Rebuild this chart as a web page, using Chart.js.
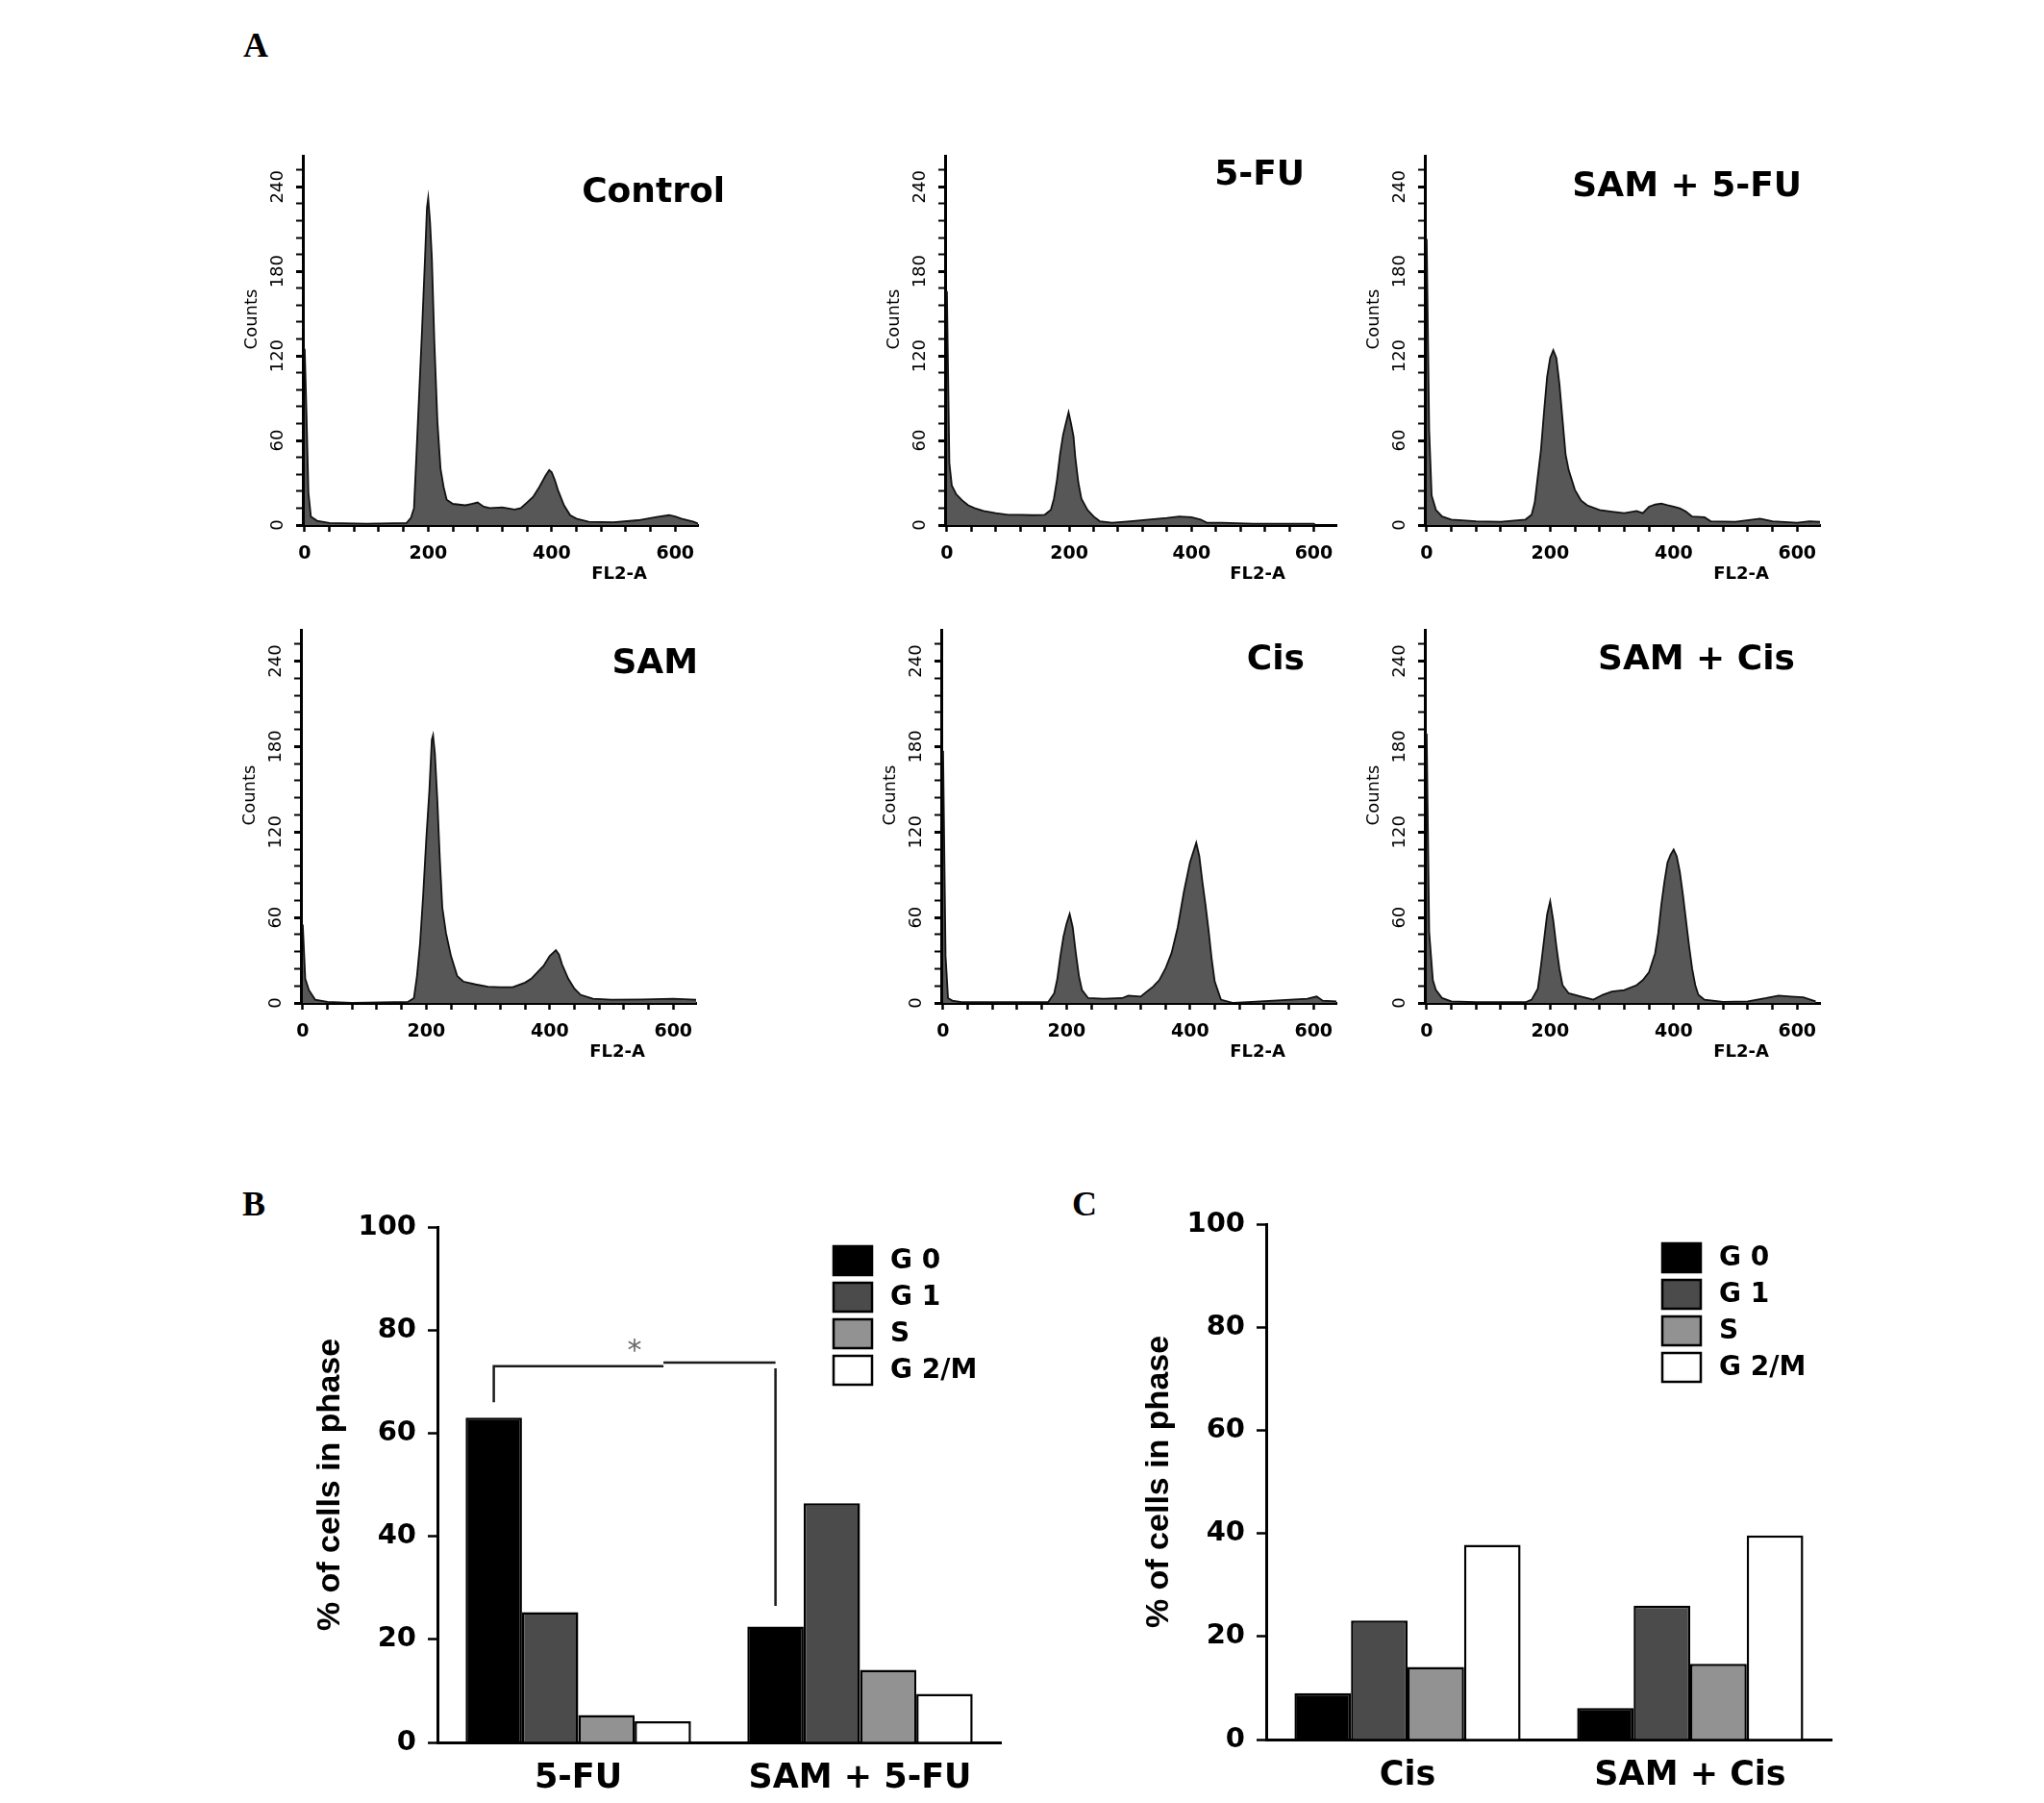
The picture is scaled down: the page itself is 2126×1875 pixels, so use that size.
<!DOCTYPE html>
<html>
<head>
<meta charset="utf-8">
<script src="https://cdn.jsdelivr.net/npm/chart.js"></script>
<style>
body { margin: 0; width: 2126px; height: 1875px; background: #fff; position: relative; overflow: hidden; }
.box { position: absolute; }
.tag { position: absolute; font: bold 36px "Liberation Serif", serif; transform: translate(-50%, -50%); color: #000; }
</style>
</head>
<body>
<div class="tag" style="left:266px; top:47px;">A</div>
<div class="tag" style="left:264px; top:1252px;">B</div>
<div class="tag" style="left:1128px; top:1252px;">C</div>

<script>
// ---- panel A: DNA content histograms (FL2-A channel vs counts) ----
const histTitles = ['Control', '5-FU', 'SAM + 5-FU', 'SAM', 'Cis', 'SAM + Cis'];

const controlChannels = [0, 3, 6, 10, 20, 40, 100, 165, 172, 177, 181, 185, 190, 195, 198, 200, 203, 206, 210, 215, 220, 225, 230, 240, 260, 270, 280, 290, 300, 320, 340, 350, 360, 370, 380, 390, 396, 400, 405, 410, 420, 430, 440, 460, 500, 540, 570, 590, 600, 610, 630, 637];
const controlCounts   = [125, 77, 23, 6, 3, 1.5, 1, 1.5, 5, 12, 50, 89, 138, 191, 225, 232, 215, 189, 130, 73, 40, 27, 18, 15, 14, 15, 16, 13, 12, 12.5, 11, 12, 16, 20, 27, 35, 39, 37.5, 32, 25, 14, 7, 4.5, 2.3, 2, 3.4, 5.7, 7, 6, 4.5, 2.3, 1];

const fuChannels = [0, 4, 8, 15, 25, 35, 45, 60, 80, 100, 120, 140, 160, 170, 175, 180, 185, 190, 195, 199, 203, 207, 210, 215, 220, 230, 240, 250, 270, 300, 330, 360, 380, 400, 415, 425, 450, 500, 600, 603];
const fuCounts   = [166, 44, 28, 22, 17.5, 14, 12, 10, 8.4, 7.3, 7.3, 7, 7.3, 10.7, 18.6, 32, 50, 64, 73, 80, 72, 63, 48, 30, 18.6, 10.7, 6, 2.7, 1.6, 2.7, 3.9, 5, 6, 5.5, 3.9, 1.6, 1.6, 0.9, 0.9, 0];

const samFuChannels = [0, 4, 8, 15, 25, 40, 80, 120, 160, 170, 175, 180, 185, 190, 195, 200, 205, 210, 215, 220, 225, 230, 240, 250, 260, 280, 300, 320, 340, 350, 360, 370, 380, 390, 400, 410, 420, 430, 450, 460, 500, 540, 560, 600, 620, 637];
const samFuCounts   = [203, 67.5, 21, 10.7, 6, 3.9, 2.7, 2.3, 3.9, 7.3, 16, 34.5, 53, 80, 105, 118.6, 124, 118.6, 100, 75, 50, 39, 25, 17.5, 14, 10.7, 9.5, 8.4, 10, 8.4, 13, 14.5, 15.2, 14, 13, 11.8, 9.5, 6, 5.5, 2.7, 2.3, 4.5, 2.7, 1.6, 2.7, 2.3];

const samChannels = [0, 4, 10, 20, 40, 80, 170, 180, 185, 190, 195, 200, 205, 209, 211, 214, 218, 222, 226, 232, 240, 250, 260, 280, 300, 320, 340, 360, 370, 380, 390, 400, 410, 415, 420, 430, 440, 450, 470, 500, 550, 600, 637];
const samCounts   = [55, 17, 9, 2.3, 0.7, 0, 0.7, 3.4, 19, 42, 76, 115, 149, 185, 188, 175, 142, 101, 67, 49, 33, 19, 15, 13, 11.4, 11, 11, 14.3, 17, 21.6, 26, 33, 37, 34, 27, 17, 10, 5.7, 3, 2.3, 2.5, 3, 2.3];

const cisChannels = [0, 4, 8, 15, 30, 170, 180, 185, 190, 195, 200, 205, 210, 215, 220, 225, 235, 260, 290, 300, 320, 330, 340, 350, 360, 370, 380, 390, 400, 410, 415, 420, 425, 430, 435, 440, 450, 470, 500, 590, 605, 615, 637];
const cisCounts   = [177, 33, 3.4, 1.6, 0.5, 0.5, 6.8, 17, 33, 46.6, 55.7, 62.5, 53, 35, 19, 9, 3.4, 3, 3.4, 5.2, 4.5, 8, 11.4, 16, 24, 35, 53, 78, 99, 112.5, 103, 85, 69, 51, 31, 15, 2.3, 0, 0.7, 3, 4.5, 1.6, 1.1];

const samCisChannels = [0, 4, 10, 15, 25, 40, 80, 160, 170, 180, 185, 190, 195, 200, 205, 210, 215, 220, 230, 250, 270, 285, 300, 320, 340, 350, 360, 370, 375, 380, 385, 390, 395, 400, 405, 410, 415, 420, 425, 430, 435, 440, 450, 480, 520, 550, 570, 590, 610, 630];
const samCisCounts   = [189, 50, 16, 9, 3.4, 1.1, 0.5, 0.5, 2.3, 10, 26, 44, 62, 71.4, 58, 40, 24, 12.5, 6.8, 4.5, 2.3, 5.7, 8, 9, 12.5, 16, 21.5, 35, 49, 69, 85, 98.6, 104, 107.7, 103, 92, 76, 58, 40, 24, 12.5, 5.7, 2.3, 0.7, 1.1, 3.4, 5.2, 4.5, 3.9, 1.1];

const histChannels = [controlChannels, fuChannels, samFuChannels, samChannels, cisChannels, samCisChannels];
const histCounts = [controlCounts, fuCounts, samFuCounts, samCounts, cisCounts, samCisCounts];

const histXTicks = [0, 40, 80, 120, 160, 200, 240, 280, 320, 360, 400, 440, 480, 520, 560, 600];
const histXLabels = [0, 200, 400, 600];
const histYTicks = [0, 12, 24, 36, 48, 60, 72, 84, 96, 108, 120, 132, 144, 156, 168, 180, 192, 204, 216, 228, 240, 252];
const histYLabels = [0, 60, 120, 180, 240];

// ---- panels B and C: % of cells in each phase ----
const cyclePhases = ['G 0', 'G 1', 'S', 'G 2/M'];
const groupsB = ['5-FU', 'SAM + 5-FU'];
const g0B = [63, 22.5];
const g1B = [25.3, 46.4];
const sB = [5.3, 14.1];
const g2mB = [4.1, 9.4];

const groupsC = ['Cis', 'SAM + Cis'];
const g0C = [9, 6.1];
const g1C = [23.1, 26];
const sC = [14.1, 14.7];
const g2mC = [37.8, 39.6];

const percentTicks = [0, 20, 40, 60, 80, 100];
// significance bracket in B: from group 0 to group 1 (G0 bars), heights in %
const sigLevels = [66, 73, 73.7, 26.5];
const sigStarLevel = 76.5;

// ---- layout (px on the page) ----
const histLayout = [
    { left: 315, top: 162, width: 411, height: 384, dx: 28, dy: 48 },
    { left: 983, top: 162, width: 407, height: 384, dx: -33, dy: 30 },
    { left: 1482, top: 162, width: 411, height: 384, dx: -19, dy: 42 },
    { left: 313, top: 655, width: 411, height: 388, dx: 2, dy: 45 },
    { left: 979, top: 655, width: 411, height: 388, dx: -33, dy: 41 },
    { left: 1482, top: 655, width: 411, height: 388, dx: -26, dy: 41 }
];
const barLayout = {
    B: { left: 455, top: 1276, width: 586, height: 536 },
    C: { left: 1317, top: 1273, width: 588, height: 536 }
};
const phaseColors = ['#000000', '#4b4b4b', '#929292', '#ffffff'];

function placeCanvas(left, top, w, h) {
    const wrap = document.createElement('div');
    wrap.className = 'box';
    wrap.style.left = left + 'px';
    wrap.style.top = top + 'px';
    wrap.style.width = w + 'px';
    wrap.style.height = h + 'px';
    const cv = document.createElement('canvas');
    wrap.appendChild(cv);
    document.body.appendChild(wrap);
    return cv;
}

// panel title, "Counts" and FL2-A labels
const histTextPlugin = {
    id: 'histText',
    afterDraw(chart, args, opts) {
        const { ctx, chartArea: a } = chart;
        ctx.save();
        ctx.fillStyle = '#000';
        ctx.font = 'bold 36px "DejaVu Sans"';
        ctx.textAlign = 'right';
        ctx.textBaseline = 'alphabetic';
        ctx.fillText(opts.title, a.right + opts.dx, a.top + opts.dy);
        ctx.font = 'bold 18px "DejaVu Sans"';
        ctx.textAlign = 'center';
        ctx.textBaseline = 'middle';
        ctx.fillText('FL2-A', a.right - 82, a.bottom + 51);
        // y title sits a little above the middle of the axis
        ctx.font = '18px "DejaVu Sans"';
        ctx.translate(a.left - 53, (a.top + a.bottom) / 2 - 22);
        ctx.rotate(-Math.PI / 2);
        ctx.fillText('Counts', 0, 0);
        ctx.restore();
    }
};

function makeHist(i) {
    const L = histLayout[i];
    const padL = 85, padT = 12, padR = 40, padB = 80;
    const cv = placeCanvas(L.left - padL, L.top - padT, padL + L.width + padR, padT + L.height + padB);
    const points = histChannels[i].map((c, k) => ({ x: c, y: histCounts[i][k] }));
    new Chart(cv, {
        type: 'line',
        data: {
            datasets: [{
                data: points,
                fill: 'origin',
                backgroundColor: '#575757',
                borderColor: '#111',
                borderWidth: 1.8,
                pointRadius: 0,
                tension: 0
            }]
        },
        options: {
            responsive: true,
            maintainAspectRatio: false,
            animation: false,
            layout: { padding: { left: 0, top: padT, right: padR, bottom: 0 } },
            plugins: {
                legend: { display: false },
                tooltip: { enabled: false },
                histText: { title: histTitles[i], dx: L.dx, dy: L.dy }
            },
            scales: {
                x: {
                    type: 'linear',
                    min: -3,
                    max: 637,
                    afterFit: s => { s.height = padB; },
                    afterBuildTicks: s => { s.ticks = histXTicks.map(v => ({ value: v })); },
                    ticks: {
                        autoSkip: false,
                        maxRotation: 0,
                        padding: 12,
                        color: '#000',
                        font: { family: 'DejaVu Sans', size: 19, weight: 'bold' },
                        callback: v => histXLabels.includes(v) ? String(v) : ''
                    },
                    grid: { drawOnChartArea: false, tickLength: 7, tickWidth: 2.5, tickColor: '#000' },
                    border: { display: true, width: 3, color: '#000' }
                },
                y: {
                    min: 0,
                    max: 262,
                    afterFit: s => { s.width = padL; },
                    afterBuildTicks: s => { s.ticks = histYTicks.map(v => ({ value: v })); },
                    ticks: {
                        autoSkip: false,
                        minRotation: 90,
                        maxRotation: 90,
                        crossAlign: 'center',
                        padding: 1,
                        color: '#000',
                        font: { family: 'DejaVu Sans', size: 18 },
                        callback: v => histYLabels.includes(v) ? String(v) : ''
                    },
                    grid: {
                        drawOnChartArea: false,
                        tickLength: 7,
                        tickColor: '#000',
                        tickWidth: c => (c.tick && histYLabels.includes(c.tick.value)) ? 3 : 2
                    },
                    border: { display: true, width: 3, color: '#000' }
                }
            }
        },
        plugins: [histTextPlugin]
    });
}

// legend boxes inside the plot area
const phaseLegendPlugin = {
    id: 'phaseLegend',
    afterDraw(chart) {
        const { ctx, chartArea: a } = chart;
        ctx.save();
        chart.data.datasets.forEach((ds, k) => {
            const x = a.left + 412, y = a.top + 20 + k * 38;
            ctx.fillStyle = ds.backgroundColor;
            ctx.fillRect(x, y, 40, 30);
            ctx.lineWidth = 2.5;
            ctx.strokeStyle = '#000';
            ctx.strokeRect(x, y, 40, 30);
            ctx.fillStyle = '#000';
            ctx.font = 'bold 28px "DejaVu Sans"';
            ctx.textAlign = 'left';
            ctx.textBaseline = 'middle';
            ctx.fillText(ds.label, x + 59, y + 16);
        });
        ctx.restore();
    }
};

// significance bracket between the two G0 bars
const bracketPlugin = {
    id: 'bracket',
    afterDatasetsDraw(chart, args, opts) {
        if (!opts.show) return;
        const { ctx } = chart;
        const ys = chart.scales.y;
        const bars = chart.getDatasetMeta(0).data;
        const x1 = bars[0].x, x2 = bars[1].x, xm = (x1 + x2) / 2;
        ctx.save();
        ctx.strokeStyle = '#1a1a1a';
        ctx.lineWidth = 2.5;
        ctx.beginPath();
        ctx.moveTo(x1, ys.getPixelForValue(sigLevels[0]));
        ctx.lineTo(x1, ys.getPixelForValue(sigLevels[1]));
        ctx.lineTo(xm + 30, ys.getPixelForValue(sigLevels[1]));
        ctx.moveTo(xm + 30, ys.getPixelForValue(sigLevels[2]));
        ctx.lineTo(x2, ys.getPixelForValue(sigLevels[2]));
        ctx.moveTo(x2, ys.getPixelForValue(sigLevels[2]) + 6);
        ctx.lineTo(x2, ys.getPixelForValue(sigLevels[3]));
        ctx.stroke();
        ctx.fillStyle = '#6a6a6a';
        ctx.font = '30px "DejaVu Sans"';
        ctx.textAlign = 'center';
        ctx.textBaseline = 'middle';
        ctx.fillText('*', xm, ys.getPixelForValue(sigStarLevel) + 4);
        ctx.restore();
    }
};

function makeBars(L, groups, series, withBracket) {
    const padL = 150, padT = 30, padR = 40, padB = 63;
    const cv = placeCanvas(L.left - padL, L.top - padT, padL + L.width + padR, padT + L.height + padB);
    new Chart(cv, {
        type: 'bar',
        data: {
            labels: groups,
            datasets: series.map((vals, k) => ({
                label: cyclePhases[k],
                data: vals,
                backgroundColor: phaseColors[k],
                borderColor: '#000',
                borderWidth: 2.5,
                categoryPercentage: 0.8,
                barPercentage: 1.0
            }))
        },
        options: {
            responsive: true,
            maintainAspectRatio: false,
            animation: false,
            layout: { padding: { left: 0, top: padT, right: padR, bottom: 0 } },
            plugins: {
                legend: { display: false },
                tooltip: { enabled: false },
                bracket: { show: withBracket }
            },
            scales: {
                x: {
                    afterFit: s => { s.height = padB; },
                    ticks: {
                        padding: 17,
                        color: '#000',
                        font: { family: 'DejaVu Sans', size: 35, weight: 'bold' }
                    },
                    grid: { display: false, drawTicks: false, tickLength: 0 },
                    border: { display: true, width: 3, color: '#000' }
                },
                y: {
                    min: 0,
                    max: 100,
                    afterFit: s => { s.width = padL; },
                    afterBuildTicks: s => { s.ticks = percentTicks.map(v => ({ value: v })); },
                    ticks: {
                        padding: 12,
                        color: '#000',
                        font: { family: 'DejaVu Sans', size: 29, weight: 'bold' }
                    },
                    grid: { drawOnChartArea: false, tickLength: 10, tickWidth: 2.5, tickColor: '#000' },
                    border: { display: true, width: 3, color: '#000' },
                    title: {
                        display: true,
                        text: '% of cells in phase',
                        color: '#000',
                        font: { family: 'Liberation Sans', size: 34, weight: 'bold' },
                        padding: { top: 18, bottom: 0 }
                    }
                }
            }
        },
        plugins: [phaseLegendPlugin, bracketPlugin]
    });
}

for (let i = 0; i < histTitles.length; i++) makeHist(i);
makeBars(barLayout.B, groupsB, [g0B, g1B, sB, g2mB], true);
makeBars(barLayout.C, groupsC, [g0C, g1C, sC, g2mC], false);
</script>
</body>
</html>
